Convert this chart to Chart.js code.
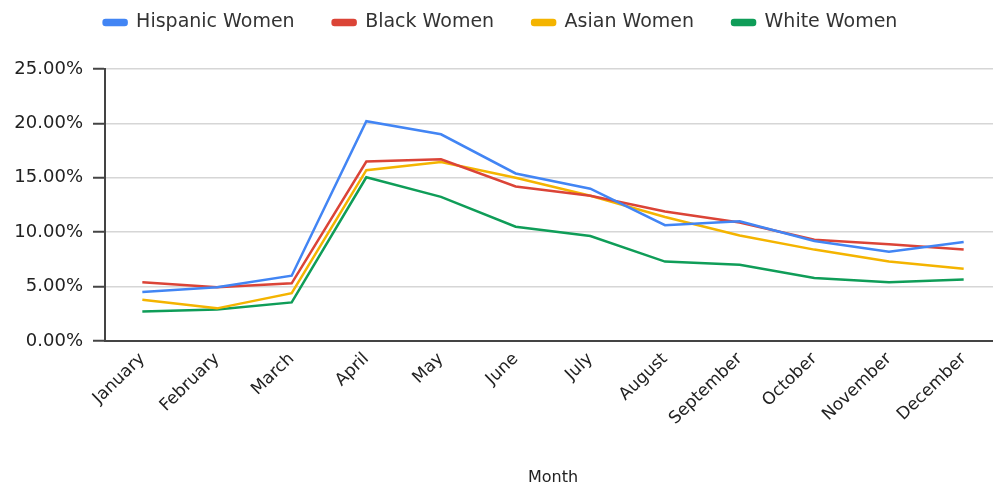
<!DOCTYPE html>
<html>
<head>
<meta charset="utf-8">
<script src="https://cdn.jsdelivr.net/npm/chart.js@4/dist/chart.umd.min.js"></script>
<style>
html,body{margin:0;padding:0;background:#fff;overflow:hidden;}
#wrap{width:993px;height:489px;position:relative;overflow:hidden;}
</style>
</head>
<body>
<div id="wrap"><canvas id="c" width="1001" height="489"></canvas></div>
<script>
const months = ["January","February","March","April","May","June","July","August","September","October","November","December"];
const hispanicWomen = [4.5, 4.95, 6.0, 20.2, 19.0, 15.4, 14.0, 10.65, 11.0, 9.2, 8.2, 9.1];
const blackWomen    = [5.4, 4.95, 5.3, 16.5, 16.7, 14.2, 13.35, 11.9, 10.9, 9.3, 8.9, 8.4];
const asianWomen    = [3.8, 3.0, 4.4, 15.7, 16.45, 15.0, 13.35, 11.4, 9.7, 8.4, 7.3, 6.65];
const whiteWomen    = [2.7, 2.9, 3.55, 15.05, 13.25, 10.5, 9.65, 7.3, 7.0, 5.8, 5.4, 5.65];
const yTicks = [0, 5, 10, 15, 20, 25];
const seriesNames = ["Hispanic Women","Black Women","Asian Women","White Women"];
const seriesColors = ["#4285F4","#DB4437","#F4B400","#0F9D58"];

const fontFamily = "'DejaVu Sans', Verdana, sans-serif";
const legendFit = {
  id: 'legendFit',
  beforeInit(chart) {
    const orig = chart.legend.fit;
    chart.legend.fit = function() { orig.call(this); this.height = 94; };
  }
};

const data = [hispanicWomen, blackWomen, asianWomen, whiteWomen];
new Chart(document.getElementById('c'), {
  type: 'line',
  data: {
    labels: months,
    datasets: data.map((d, i) => ({
      label: seriesNames[i],
      data: d,
      borderColor: seriesColors[i],
      backgroundColor: seriesColors[i],
      borderWidth: 2.5,
      pointRadius: 0,
      tension: 0,
      fill: false
    }))
  },
  plugins: [legendFit],
  options: {
    responsive: false,
    animation: false,
    layout: { padding: { left: 0, right: 0, top: -25, bottom: 2 } },
    plugins: {
      legend: {
        position: 'top',
        labels: {
          boxWidth: 23,
          boxHeight: 5,
          useBorderRadius: true,
          borderRadius: 2,
          padding: 38,
          color: '#333',
          font: { family: fontFamily, size: 19 }
        }
      },
      tooltip: { enabled: false }
    },
    scales: {
      x: {
        offset: true,
        grid: { display: false, drawTicks: false },
        border: { display: true, color: '#444', width: 2 },
        ticks: {
          color: '#222',
          font: { family: fontFamily, size: 17 },
          minRotation: 44, maxRotation: 44,
          padding: 8,
          autoSkip: false
        },
        title: {
          display: true,
          text: 'Month',
          color: '#222',
          font: { family: fontFamily, size: 16 },
          padding: { top: 22, bottom: 0 }
        },
        afterFit(scale) { scale.height = 146; scale.paddingRight = 0; }
      },
      y: {
        min: 0,
        max: 25,
        afterBuildTicks(scale) { scale.ticks = yTicks.map(v => ({ value: v })); },
        grid: { color: '#d6d6d6', lineWidth: 1.5, tickColor: '#444', tickLength: 12, tickWidth: 2 },
        border: { display: true, color: '#444', width: 2 },
        ticks: {
          color: '#222',
          font: { family: fontFamily, size: 18 },
          padding: 10,
          callback: v => v.toFixed(2) + '%'
        },
        afterFit(scale) { scale.width = 105; }
      }
    }
  }
});
</script>
</body>
</html>
